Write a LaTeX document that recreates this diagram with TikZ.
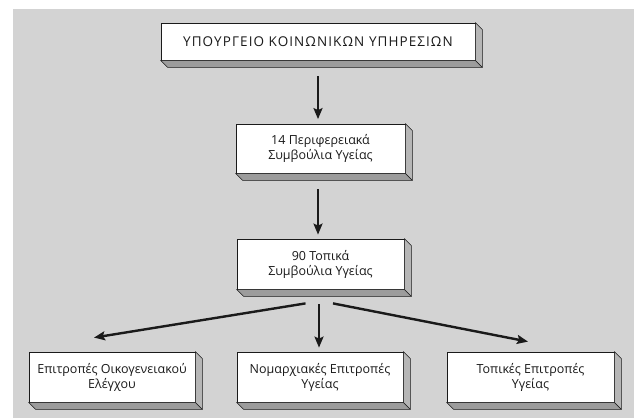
\documentclass[tikz,border=0pt]{standalone}
\usepackage{fontspec}
\setmainfont{Open Sans}
\usetikzlibrary{arrows.meta,calc}

\definecolor{panel}{HTML}{D3D3D3}
\definecolor{sideface}{HTML}{B6B6B6}
\definecolor{baseface}{HTML}{9C9C9C}
\definecolor{ink}{HTML}{1A1A1A}

\tikzset{
  unit/.style={draw=ink, line width=0.8pt, fill=white, align=center,
    inner sep=0pt, text=ink, font=\fontsize{12.5}{15}\selectfont},
  link/.style={draw=ink, line width=2.4pt,
    -{Stealth[length=11pt,width=9pt,inset=2pt]}},
  face/.style={draw=ink, line width=0.6pt, line join=round},
}

% bottom and right faces that give a node its raised-slab look
\newcommand\slabfaces[1]{%
  \fill[face, fill=baseface] (#1.south west) -- (#1.south east)
    -- ++(7,7) -- ($(#1.south west)+(7,7)$) -- cycle;
  \fill[face, fill=sideface] (#1.north east) -- ++(7,7)
    -- ($(#1.south east)+(7,7)$) -- (#1.south east) -- cycle;
}

\begin{document}
\begin{tikzpicture}[x=1pt, y=-1pt]
  \useasboundingbox (0,0) rectangle (634,418);
  \fill[panel] (13,8.5) rectangle (634,418);

  % hierarchy levels
  \node[unit, minimum width=314pt, minimum height=37pt,
        font=\fontsize{13.5}{15}\selectfont\addfontfeatures{LetterSpace=8}]
    (top) at (318,41.5) {ΥΠΟΥΡΓΕΙΟ ΚΟΙΝΩΝΙΚΩΝ ΥΠΗΡΕΣΙΩΝ};
  \node[unit, minimum width=169pt, minimum height=49pt] (mid1) at (320.5,148.5)
    {14 Περιφερειακά\\Συμβούλια Υγείας};
  \node[unit, minimum width=167pt, minimum height=50pt] (mid2) at (320.5,264)
    {90 Τοπικά\\Συμβούλια Υγείας};
  \node[unit, minimum width=166pt, minimum height=50pt] (left) at (112,377)
    {Επιτροπές Οικογενειακού\\Ελέγχου};
  \node[unit, minimum width=166pt, minimum height=50pt] (centre) at (320,377)
    {Νομαρχιακές Επιτροπές\\Υγείας};
  \node[unit, minimum width=167pt, minimum height=50pt] (right) at (530.5,377)
    {Τοπικές Επιτροπές\\Υγείας};

  \foreach \n in {top,mid1,mid2,left,centre,right}{\slabfaces{\n}}

  % vertical links
  \draw[link, shorten <=16pt, shorten >=4.5pt]
    (top.south) -- ([xshift=-2.5pt]mid1.north);
  \draw[link, shorten <=16pt, shorten >=4pt]
    ([xshift=-2.5pt]mid1.south) -- ([xshift=-2.5pt]mid2.north);

  % fan-out to the committees
  \coordinate (fanL) at ($(mid2.south)+(-15,14)$);
  \coordinate (fanM) at ($(mid2.south)+(-1.5,15)$);
  \coordinate (fanR) at ($(mid2.south)+(12.5,14)$);
  \coordinate (tipL) at ($(left.north)+(-18,-14)$);
  \coordinate (tipR) at ($(right.north)+(-2.5,-10)$);
  \draw[link] (fanL) -- (tipL);
  \draw[link, shorten >=4pt] (fanM) -- ([xshift=-1pt]centre.north);
  \draw[link] (fanR) -- (tipR);
\end{tikzpicture}
\end{document}
